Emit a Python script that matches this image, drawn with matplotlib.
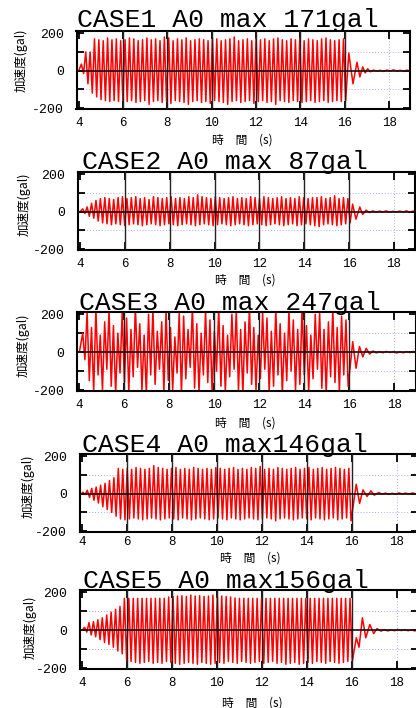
import numpy as np
import matplotlib
matplotlib.use('Agg')
import matplotlib.pyplot as plt

# --- data -------------------------------------------------------------
titles = ["CASE1 A0 max 171gal", "CASE2 A0 max 87gal", "CASE3 A0 max 247gal",
          "CASE4 A0 max146gal", "CASE5 A0 max156gal"]

# start of oscillation and period (s) of each case
t_start = [4.12, 4.12, 4.15, 4.05, 4.10]
period = [0.197, 0.197, 0.195, 0.197, 0.197]

# positive / negative peak per cycle (gal)
pos1 = [35, 100, 100, 170, 165, 160, 175, 165, 170, 160,
        165, 175, 170, 160, 165, 175, 165, 170, 160, 180,
        175, 160, 170, 165, 175, 160, 165, 170, 165, 160,
        175, 170, 160, 165, 170, 180, 160, 165, 170, 160,
        175, 165, 170, 160, 170, 175, 165, 160, 170, 165,
        175, 160, 170, 165, 160, 170, 175, 165, 160, 165, 170]
neg1 = [-15, -70, -120, -140, -155, -160, -165, -160, -165, -160,
        -165, -160, -170, -165, -160, -180, -165, -160, -170, -165,
        -175, -160, -165, -170, -180, -165, -160, -170, -165, -175,
        -160, -165, -170, -180, -165, -160, -170, -165, -160, -175,
        -165, -160, -170, -165, -180, -160, -165, -170, -160, -165,
        -170, -165, -160, -170, -165, -160, -170, -165, -160, -165, -160]

pos2 = [15, 25, 45, 60, 70, 75, 70, 65, 75, 80,
        70, 75, 80, 70, 75, 65, 80, 75, 70, 75,
        80, 70, 75, 70, 80, 75, 90, 80, 75, 70,
        80, 75, 70, 75, 80, 70, 75, 70, 80, 75,
        70, 80, 75, 70, 75, 80, 70, 75, 70, 80,
        75, 70, 75, 75, 80, 70, 75, 85, 70, 75, 70]
neg2 = [-10, -25, -35, -50, -60, -65, -70, -65, -70, -75,
        -70, -65, -70, -75, -70, -65, -70, -75, -70, -65,
        -70, -75, -70, -65, -70, -75, -70, -65, -70, -75,
        -70, -65, -70, -75, -70, -65, -70, -75, -70, -65,
        -70, -75, -70, -65, -70, -75, -70, -65, -75, -70,
        -65, -70, -75, -80, -70, -65, -70, -75, -70, -65, -60]

pos3 = [100, 210, 130, 230, 90, 160, 220, 140, 100, 210,
        180, 120, 240, 150, 90, 200, 230, 110, 160, 220,
        130, 80, 210, 190, 120, 240, 150, 100, 220, 170,
        110, 230, 140, 90, 200, 220, 120, 160, 240, 130,
        90, 210, 180, 110, 230, 150, 100, 220, 170, 120,
        240, 140, 90, 200, 210, 120, 160, 230, 130, 190, 170]
neg3 = [-40, -150, -210, -120, -200, -90, -180, -220, -110, -160,
        -210, -130, -80, -200, -220, -120, -170, -90, -210, -150,
        -200, -110, -220, -140, -80, -190, -210, -120, -160, -220,
        -100, -180, -210, -130, -90, -200, -220, -110, -170, -200,
        -140, -90, -210, -180, -120, -220, -150, -100, -200, -170,
        -120, -210, -140, -90, -190, -220, -130, -160, -210, -120, -180]

pos4 = [8, 18, 28, 35, 45, 55, 70, 85, 135, 130,
        135, 130, 140, 135, 130, 135, 150, 140, 135, 130,
        135, 140, 130, 135, 130, 140, 135, 130, 135, 130,
        140, 135, 130, 135, 140, 130, 135, 130, 140, 135,
        145, 130, 135, 130, 140, 135, 130, 135, 140, 130,
        135, 140, 130, 135, 140, 130, 135, 140, 135, 130, 135]
neg4 = [-5, -20, -35, -50, -70, -85, -100, -120, -135, -140,
        -135, -130, -135, -140, -135, -130, -135, -140, -135, -130,
        -135, -140, -130, -135, -140, -135, -130, -135, -140, -135,
        -130, -135, -140, -130, -135, -140, -135, -130, -135, -140,
        -135, -130, -135, -145, -135, -130, -135, -140, -135, -130,
        -135, -140, -130, -135, -140, -135, -130, -140, -135, -130, -145]

pos5 = [15, 40, 45, 55, 65, 80, 95, 110, 125, 168,
        168, 168, 168, 168, 168, 168, 168, 168, 168, 175,
        178, 180, 182, 178, 185, 180, 182, 178, 180, 185,
        182, 180, 178, 175, 170, 168, 168, 168, 168, 168,
        168, 168, 168, 168, 168, 168, 168, 168, 168, 168,
        168, 168, 168, 168, 168, 168, 168, 168, 168, 168, 168]
neg5 = [-10, -25, -35, -50, -65, -75, -90, -110, -125, -160,
        -165, -170, -175, -170, -165, -175, -170, -175, -165, -170,
        -175, -180, -175, -170, -175, -180, -170, -175, -180, -175,
        -170, -175, -165, -170, -175, -165, -170, -175, -170, -165,
        -175, -170, -165, -175, -170, -180, -175, -170, -180, -175,
        -170, -175, -165, -170, -175, -165, -170, -175, -170, -165, -165]

pos_peaks = [pos1, pos2, pos3, pos4, pos5]
neg_peaks = [neg1, neg2, neg3, neg4, neg5]

# free vibration after the excitation stops
tail_t = [
    [16.18, 16.37, 16.55, 16.68, 16.81, 16.92, 17.03, 17.15, 17.3, 17.45,
     17.6, 17.75, 17.9, 18.05, 18.2, 18.35, 18.5, 18.65, 18.8, 18.95],
    [16.15, 16.3, 16.47, 16.6, 16.75, 16.9, 17.05, 17.2, 17.35, 17.5,
     17.65, 17.8, 17.95, 18.1, 18.25, 18.4, 18.55, 18.7, 18.85, 18.95],
    [16.15, 16.3, 16.45, 16.6, 16.75, 16.9, 17.05, 17.2, 17.35, 17.5,
     17.65, 17.8, 17.95, 18.1, 18.25, 18.4, 18.55, 18.7, 18.85, 18.95],
    [16.2, 16.35, 16.5, 16.68, 16.85, 17.0, 17.2, 17.35, 17.5, 17.65,
     17.8, 17.95, 18.1, 18.25, 18.4, 18.55, 18.7, 18.85, 18.95],
    [16.2, 16.32, 16.47, 16.62, 16.8, 16.97, 17.12, 17.3, 17.45, 17.6,
     17.75, 17.9, 18.05, 18.2, 18.35, 18.5, 18.65, 18.8, 18.95],
]
tail_v = [
    [94, -70, 45, -33, 20, -12, 10, -6, 3, -3, 2, -4, 3, -2, 4, -3, 2, -4, 3, -2],
    [40, -40, 25, -15, 8, -5, 4, -3, 3, -2, 4, -3, 2, -3, 3, -2, 4, -3, 3, 2],
    [55, -85, 30, -25, 20, -10, 6, -4, 3, -3, 4, -2, 3, -4, 2, -3, 3, -2, 4, -2],
    [50, -52, 20, -15, 15, -8, 6, -3, 3, -4, 2, -3, 4, -2, 3, -3, 4, -2, 3],
    [-40, -90, 65, -40, 30, -18, 8, -5, 3, -4, 2, -3, 4, -2, 3, -3, 2, -4, 3],
]

# --- layout (pixels in the 416x708 image) ------------------------------
W, H = 416, 708
ax_left = [76.5, 77.8, 77.1, 79.5, 80.1]
ax_width = [333.7, 337.6, 338.6, 338.6, 338.0]
ax_top = [31, 172, 312, 454, 590]
ax_bottom = [109, 250, 391, 532, 669]
xtick_pad = [6, 6, 6, 3, 6]
title_xy = [(77, 27), (82, 169), (79, 310), (82, 452), (83, 588)]
ylab_xy = [(21, 60), (24, 204), (23, 345), (28, 486), (30, 627)]
xlab_xy = [(242, 140), (245, 280), (245, 423), (250, 558), (252, 703)]

mono = 'Liberation Mono'
cjk = ['Noto Sans CJK JP', 'DejaVu Sans']

fig = plt.figure(figsize=(W / 100, H / 100), dpi=100)

for i in range(5):
    ax = fig.add_axes([ax_left[i] / W, 1 - ax_bottom[i] / H,
                       ax_width[i] / W, (ax_bottom[i] - ax_top[i]) / H])

    n = len(pos_peaks[i])
    tp = t_start[i] + period[i] * np.arange(n)
    tn = tp + period[i] / 2
    x = np.column_stack([tp, tn]).ravel()
    y = np.column_stack([pos_peaks[i], neg_peaks[i]]).ravel()
    x = np.concatenate([[3.9, 4.0], x, tail_t[i]])
    y = np.concatenate([[0, 0], y, tail_v[i]])

    ax.plot(x, y, color='red', lw=1.1, zorder=2)

    # grid
    for yy in (-100, 100):
        ax.axhline(yy, color='#a8a8ff', lw=0.7, ls=(0, (1, 2)), zorder=1)
    ax.axvline(18, color='#a8a8ff', lw=0.7, ls=(0, (1, 2)), zorder=1)
    for xx in range(6, 17, 2):
        ax.axvline(xx, color='#222222', lw=1.0, zorder=3)
    ax.axhline(0, color='#111111', lw=1.2, zorder=3)

    ax.set_xlim(3.9, 18.95)
    ax.set_ylim(-205, 212)
    ax.set_xticks(range(4, 19, 2))
    ax.set_xticklabels([str(v) for v in range(4, 19, 2)], fontfamily=mono, fontsize=9)
    ax.set_yticks([-200, -100, 0, 100, 200])
    ax.set_yticklabels(['-200', '', '0', '', '200'], fontfamily=mono, fontsize=9.5)
    ax.tick_params(axis='x', direction='in', top=True, length=6, width=1.3, pad=xtick_pad[i])
    ax.tick_params(axis='y', direction='in', right=True, length=5, width=1.3, pad=9)
    for sp in ax.spines.values():
        sp.set_linewidth(1.5)

    tx, ty = title_xy[i]
    fig.text(tx / W, 1 - ty / H, titles[i], fontfamily=mono, fontsize=19,
             va='baseline', ha='left')
    lx, ly = ylab_xy[i]
    fig.text(lx / W, 1 - ly / H, '加速度(gal)', family=cjk, fontsize=9,
             rotation=90, va='center', ha='center')
    bx, by = xlab_xy[i]
    fig.text(bx / W, 1 - by / H, '時\u3000間\u3000(s)', family=cjk, fontsize=8.5,
             va='center', ha='center')

plt.savefig('out.png', dpi=100)
